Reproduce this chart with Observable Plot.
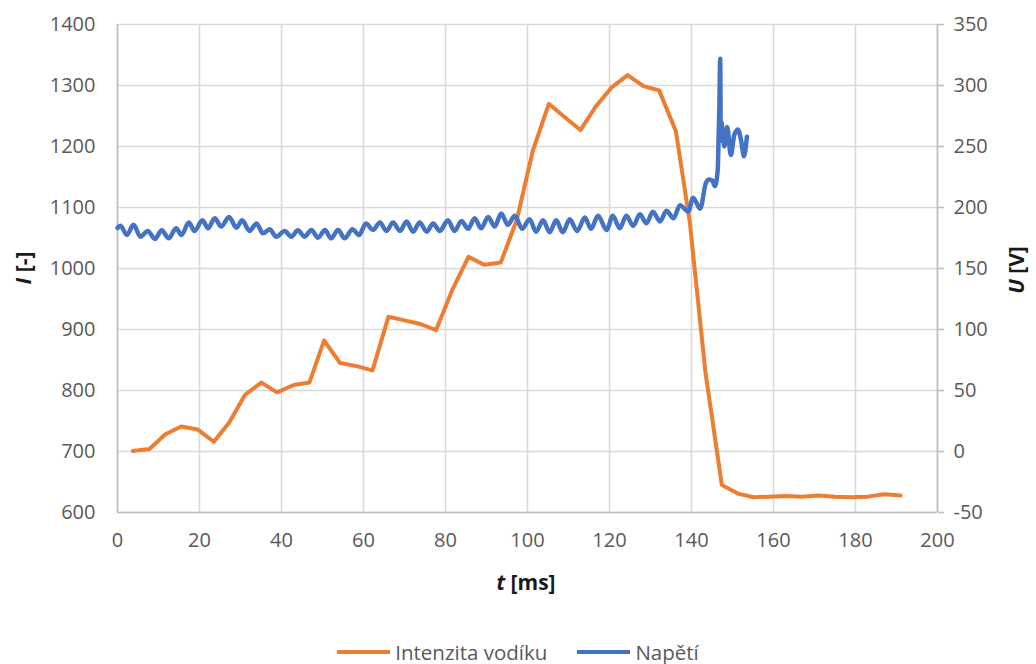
<!DOCTYPE html>
<html>
<head>
<meta charset="utf-8">
<script src="https://cdn.jsdelivr.net/npm/d3@7"></script>
<script src="https://cdn.jsdelivr.net/npm/@observablehq/plot@0.6"></script>
<style>
  html, body { margin: 0; padding: 0; background: #fff; overflow: hidden; }
  body { font-family: "Open Sans", sans-serif; width: 1036px; }
  #legend { height: 24px; padding-top: 20px; display: flex; justify-content: center; align-items: center;
            font-family: "Open Sans", sans-serif; font-size: 20.5px; color: #595959; padding-left: 0px; }
  #legend .item { display: flex; align-items: center; margin: 0 15px; }
  #legend .sw { display: inline-block; width: 53px; height: 4px; margin-right: 5px; }
</style>
</head>
<body>
<div id="chart"></div>
<div id="legend"></div>
<script>
// ---- data ----
const hydrogenTime = [3.7, 7.8, 11.6, 15.5, 19.6, 23.5, 27.3, 31.1, 35.1, 38.9, 43.0, 46.8, 50.4, 54.3, 58.3, 62.2, 66.1, 70.0, 73.9, 77.7, 81.6, 85.6, 89.5, 93.5, 97.4, 101.3, 105.2, 109.1, 112.9, 116.6, 120.4, 124.4, 128.3, 132.1, 136.2, 139.6, 143.4, 147.4, 151.3, 155.2, 159.1, 163.0, 167.0, 171.0, 175.0, 179.0, 183.0, 187.0, 191.0];
const hydrogenIntensity = [701, 704, 728, 741, 736, 716, 748, 793, 813, 797, 809, 813, 882, 845, 840, 833, 921, 915, 909, 899, 964, 1019, 1006, 1010, 1080, 1193, 1270, 1248, 1227, 1265, 1296, 1317, 1299, 1292, 1225, 1075, 830, 645, 631, 625, 626, 627, 626, 628, 626, 625, 626, 630, 628];

const voltageTime = [0, 0.7, 2.3, 3.9, 5.6, 7.4, 9.1, 10.8, 12.5, 14.3, 15.6, 17.4, 18.8, 20.7, 22.1, 23.7, 25.3, 27.2, 29.0, 30.4, 32.2, 33.9, 35.5, 37.1, 38.7, 40.8, 42.4, 44.0, 45.6, 47.3, 48.9, 50.6, 52.1, 53.8, 55.4, 57.3, 58.9, 60.6, 62.3, 64.0, 65.6, 67.2, 68.9, 70.5, 72.1, 73.7, 75.4, 77.0, 78.6, 80.6, 82.2, 83.9, 85.5, 87.1, 88.7, 90.4, 92.0, 93.6, 95.2, 96.9, 98.7, 100.5, 102.1, 103.8, 105.4, 107.0, 108.6, 110.3, 112.1, 114.0, 115.5, 117.2, 119.3, 120.8, 122.5, 124.1, 125.8, 127.4, 129.0, 130.6, 132.3, 133.9, 135.6, 137.2, 139.2, 140.4, 142.1, 143.5, 144.3, 145.1, 145.7, 146.4, 146.6, 146.8, 147.0, 147.15, 147.3, 147.6, 148.0, 148.7, 149.6, 150.4, 151.3, 152.1, 152.8, 153.5];
const voltageValues = [183.3, 185, 177.5, 185.8, 176.1, 180.8, 174.2, 181.3, 174.7, 183, 177.5, 187.7, 180.8, 189.5, 183, 191.2, 184.4, 192.3, 183.5, 189.5, 180.8, 186.8, 178.8, 182.1, 176.1, 180.8, 176.1, 181.3, 176.1, 181.6, 175.3, 181.6, 174.7, 181.6, 174.7, 182.1, 177.5, 186.8, 181.6, 187.7, 180.8, 187.7, 180.8, 188.5, 180.2, 187.7, 180.2, 186.8, 180.8, 189.5, 180.8, 189.0, 182.5, 191.2, 183, 192.3, 184.4, 195.1, 185.8, 193.2, 182.5, 190.4, 180.2, 189.5, 179.7, 189.5, 179.7, 190.4, 180.8, 191.8, 182.5, 193.2, 181.6, 193.2, 183, 193.2, 184.9, 194.5, 187.1, 196.5, 188.5, 197.3, 191.2, 201.9, 196.7, 208, 199, 220, 223, 222, 217.5, 231, 256, 283, 322, 255, 270, 262, 250, 266, 243, 259, 264, 255, 242, 258];

const xTicks = [0, 20, 40, 60, 80, 100, 120, 140, 160, 180, 200];
const leftTicks = [600, 700, 800, 900, 1000, 1100, 1200, 1300, 1400];
const rightTicks = [-50, 0, 50, 100, 150, 200, 250, 300, 350];
const seriesNames = ["Intenzita vodíku", "Napětí"];
const seriesColors = ["#ED7D31", "#4472C4"];

// secondary axis (-50..350 V) mapped onto primary (600..1400)
const uToI = u => 600 + (u + 50) * 2;
const iToU = i => (i - 600) / 2 - 50;

const hydrogen = hydrogenTime.map((t, i) => ({t, v: hydrogenIntensity[i]}));
const voltage = voltageTime.map((t, i) => ({t, v: voltageValues[i]}));

const grid = "#d9d9d9";
const axisLine = "#bfbfbf";
const textCol = "#595959";

const plot = Plot.plot({
  width: 1036,
  height: 620,
  marginLeft: 117,
  marginRight: 99,
  marginTop: 24,
  marginBottom: 108,
  style: {fontFamily: "Open Sans, sans-serif", fontSize: "20px", background: "#fff"},
  x: {domain: [0, 200]},
  y: {domain: [600, 1400]},
  marks: [
    Plot.gridX(xTicks, {stroke: grid, strokeOpacity: 1, strokeWidth: 1.6}),
    Plot.gridY(leftTicks, {stroke: grid, strokeOpacity: 1, strokeWidth: 1.6}),
    Plot.ruleX([0], {stroke: axisLine, strokeWidth: 1.6}),
    Plot.ruleX([200], {stroke: axisLine, strokeWidth: 1.6}),
    Plot.ruleY([600], {stroke: axisLine, strokeWidth: 1.6}),
    Plot.axisX(xTicks, {tickSize: 0, tickPadding: 20, color: textCol, tickFormat: d => String(d), label: null}),
    Plot.axisY(leftTicks, {anchor: "left", tickSize: 0, tickPadding: 22, color: textCol, tickFormat: d => String(d), label: null}),
    Plot.axisY(rightTicks.map(uToI), {anchor: "right", tickSize: 6, color: axisLine, strokeWidth: 1.6, tickFormat: () => "", label: null}),
    Plot.axisY(rightTicks.map(uToI), {anchor: "right", tickSize: 0, tickPadding: 16, color: textCol, tickFormat: d => String(Math.round(iToU(d))), label: null}),
    Plot.line(hydrogen, {x: "t", y: "v", stroke: seriesColors[0], strokeWidth: 4, strokeLinejoin: "round", strokeLinecap: "round"}),
    Plot.line(voltage, {x: "t", y: d => uToI(d.v), stroke: seriesColors[1], strokeWidth: 4.5, curve: "monotone-x", strokeLinejoin: "round", strokeLinecap: "round"})
  ]
});

document.getElementById("chart").appendChild(plot);

// axis titles
const svg = d3.select(plot);
const titleStyle = sel => sel.attr("font-family", "Open Sans, sans-serif").attr("font-size", 21)
  .attr("font-weight", "bold").attr("fill", "#1a1a1a").attr("text-anchor", "middle").attr("dominant-baseline", "central");

const ly = svg.append("text").attr("transform", "translate(23,268) rotate(-90)").call(titleStyle);
ly.append("tspan").attr("font-style", "italic").text("I");
ly.append("tspan").text(" [-]");

const ry = svg.append("text").attr("transform", "translate(1016,270) rotate(-90)").call(titleStyle);
ry.append("tspan").attr("font-style", "italic").text("U");
ry.append("tspan").text(" [V]");

const tx = svg.append("text").attr("transform", "translate(526,582)").call(titleStyle);
tx.append("tspan").attr("font-style", "italic").text("t");
tx.append("tspan").text(" [ms]");

// legend
const legend = d3.select("#legend");
seriesNames.forEach((name, i) => {
  const item = legend.append("div").attr("class", "item");
  item.append("span").attr("class", "sw").style("background", seriesColors[i]);
  item.append("span").text(name);
});
</script>
</body>
</html>
